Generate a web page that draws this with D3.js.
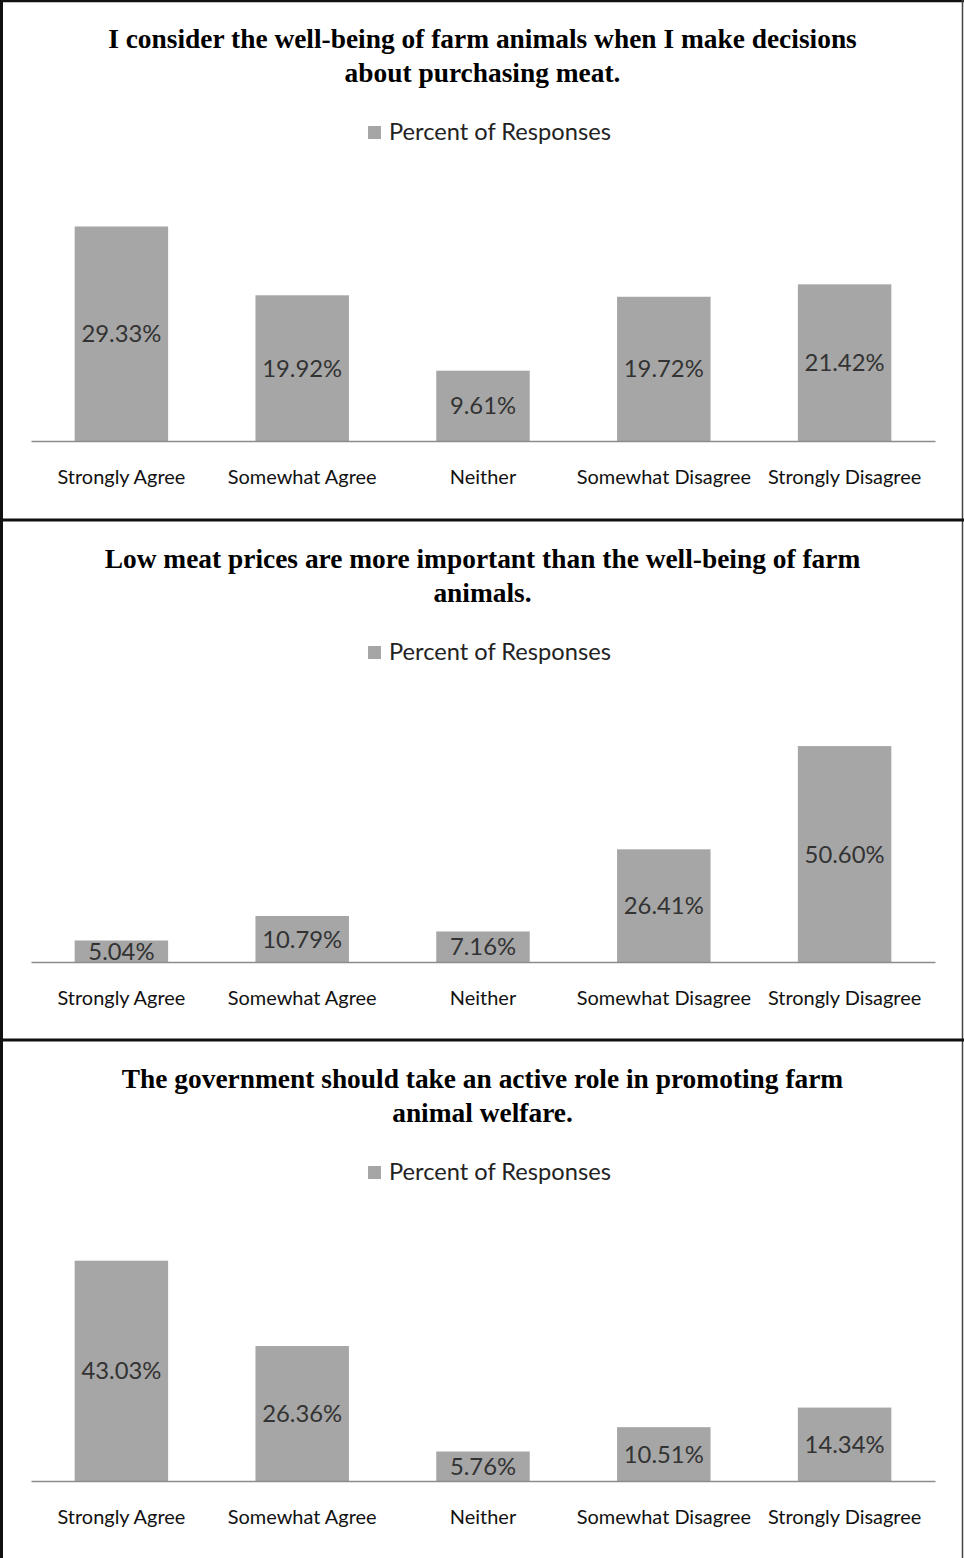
<!DOCTYPE html>
<html>
<head>
<meta charset="utf-8">
<script src="https://cdn.jsdelivr.net/npm/d3@7"></script>
<style>
  html, body { margin: 0; padding: 0; background: #fff; }
  svg { display: block; }
</style>
</head>
<body>
<svg id="chart" width="964" height="1558"></svg>
<script>
// ---------------- DATA ----------------
const categories = ["Strongly Agree", "Somewhat Agree", "Neither", "Somewhat Disagree", "Strongly Disagree"];
const seriesName = "Percent of Responses";

const titles1 = ["I consider the well-being of farm animals when I make decisions", "about purchasing meat."];
const titles2 = ["Low meat prices are more important than the well-being of farm", "animals."];
const titles3 = ["The government should take an active role in promoting farm", "animal welfare."];

const values1 = [29.33, 19.92, 9.61, 19.72, 21.42];
const values2 = [5.04, 10.79, 7.16, 26.41, 50.60];
const values3 = [43.03, 26.36, 5.76, 10.51, 14.34];

const yMax1 = 35, yMax2 = 60, yMax3 = 50;

// ---------------- LAYOUT ----------------
const W = 964, H = 1558;
const panelStep = 520;
const panels = [
  { titles: titles1, values: values1, yMax: yMax1 },
  { titles: titles2, values: values2, yMax: yMax2 },
  { titles: titles3, values: values3, yMax: yMax3 }
];

const svg = d3.select("#chart");
const TITLE_FONT = "'Liberation Serif', 'DejaVu Serif', serif";
const SANS = "Lato, 'Open Sans', 'Noto Sans', sans-serif";

// measure helper: font size that makes text reach target width
function fitSize(text, family, weight, target) {
  const t = svg.append("text").attr("font-family", family).attr("font-weight", weight)
    .attr("font-size", 100).text(text);
  const w = t.node().getComputedTextLength();
  t.remove();
  return 100 * target / w;
}

const titleSize = fitSize(titles1[0], TITLE_FONT, "bold", 749);
const legendSize = fitSize(seriesName, SANS, "normal", 222);
const catSize = fitSize(categories[0], SANS, "normal", 128);
const valSize = fitSize("29.33%", SANS, "normal", 80);

const x = d3.scaleBand().domain(categories).range([31, 935]).paddingInner(0.483).paddingOuter(0.2415);

panels.forEach((p, i) => {
  const oy = i * panelStep;
  const g = svg.append("g").attr("transform", `translate(0,${oy})`);
  const baseY = 441 + (i === 1 ? 1 : 0);
  const y = d3.scaleLinear().domain([0, p.yMax]).range([baseY, baseY - 256]);

  // title
  g.selectAll("text.title").data(p.titles).join("text")
    .attr("class", "title")
    .attr("x", 482.5)
    .attr("y", (d, k) => 48 + k * 34)
    .attr("text-anchor", "middle")
    .attr("font-family", TITLE_FONT)
    .attr("font-weight", "bold")
    .attr("font-size", titleSize)
    .attr("fill", "#000")
    .text(d => d);

  // legend
  g.append("rect").attr("x", 368).attr("y", 126).attr("width", 13).attr("height", 13).attr("fill", "#a6a6a6");
  g.append("text").attr("x", 389).attr("y", 139.5)
    .attr("font-family", SANS).attr("font-size", legendSize).attr("fill", "#222")
    .text(seriesName);

  // bars
  g.selectAll("rect.bar").data(p.values).join("rect")
    .attr("class", "bar")
    .attr("x", (d, k) => x(categories[k]))
    .attr("width", x.bandwidth())
    .attr("y", d => y(d))
    .attr("height", d => y(0) - y(d))
    .attr("fill", "#a6a6a6");

  // value labels
  g.selectAll("text.val").data(p.values).join("text")
    .attr("class", "val")
    .attr("x", (d, k) => x(categories[k]) + x.bandwidth() / 2)
    .attr("y", d => (y(d) + y(0)) / 2 + valSize * 0.36)
    .attr("text-anchor", "middle")
    .attr("font-family", SANS).attr("font-size", valSize).attr("fill", "#333")
    .text(d => d.toFixed(2) + "%");

  // axis
  const axis = d3.axisBottom(x).tickSize(0).tickPadding(0);
  const ax = g.append("g").attr("transform", `translate(0,${baseY})`).call(axis);
  ax.select(".domain").attr("stroke", "#8c8c8c").attr("stroke-width", 1.5);
  ax.selectAll(".tick text")
    .attr("y", 0).attr("dy", 0)
    .attr("transform", "translate(0,43)")
    .attr("font-family", SANS).attr("font-size", catSize).attr("fill", "#111");
});

// borders
svg.append("line").attr("x1", 1.5).attr("x2", 1.5).attr("y1", 0).attr("y2", H).attr("stroke", "#111").attr("stroke-width", 3);
svg.append("line").attr("x1", 0).attr("x2", W).attr("y1", 1).attr("y2", 1).attr("stroke", "#111").attr("stroke-width", 2.5);
svg.append("line").attr("x1", 962.5).attr("x2", 962.5).attr("y1", 0).attr("y2", H).attr("stroke", "#444").attr("stroke-width", 1.5);
[520, 1040].forEach(yy => {
  svg.append("line").attr("x1", 0).attr("x2", W).attr("y1", yy).attr("y2", yy).attr("stroke", "#111").attr("stroke-width", 3);
});
</script>
</body>
</html>
